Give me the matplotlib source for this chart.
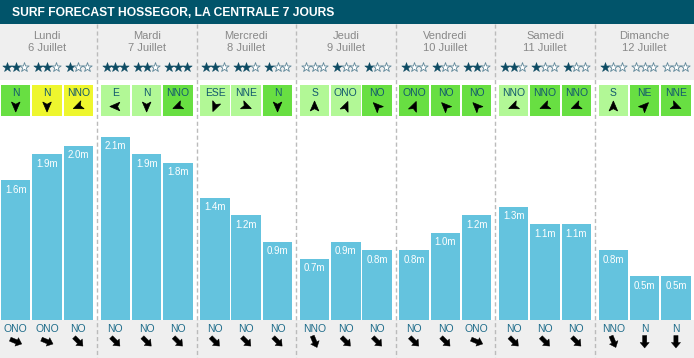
import numpy as np
import matplotlib
matplotlib.use("Agg")
import matplotlib.pyplot as plt
from matplotlib.patches import Rectangle, Polygon

plt.rcParams['font.family'] = ['Liberation Sans', 'DejaVu Sans']

days = ["Lundi", "Mardi", "Mercredi", "Jeudi", "Vendredi", "Samedi", "Dimanche"]
dates = ["6 Juillet", "7 Juillet", "8 Juillet", "9 Juillet", "10 Juillet", "11 Juillet", "12 Juillet"]
wave_height = [1.6, 1.9, 2.0, 2.1, 1.9, 1.8, 1.4, 1.2, 0.9, 0.7, 0.9, 0.8,
               0.8, 1.0, 1.2, 1.3, 1.1, 1.1, 0.8, 0.5, 0.5]
stars = [2, 2, 1, 3, 2, 3, 2, 2, 1, 0, 1, 1, 1, 1, 2, 2, 1, 1, 1, 0, 0]
wind_dir = ["N", "N", "NNO", "E", "N", "NNO", "ESE", "NNE", "N", "S", "ONO", "NO",
            "ONO", "NO", "NO", "NNO", "NNO", "NNO", "S", "NE", "NNE"]
wind_quality = [1, 2, 2, 0, 0, 1, 0, 0, 1, 0, 0, 1, 1, 1, 1, 0, 1, 1, 0, 1, 1]
swell_dir = ["ONO", "ONO", "NO", "NO", "NO", "NO", "NO", "NO", "NO", "NNO", "NO", "NO",
             "NO", "NO", "ONO", "NO", "NO", "NO", "NNO", "N", "N"]

compass = ["N", "NNE", "NE", "ENE", "E", "ESE", "SE", "SSE",
           "S", "SSO", "SO", "OSO", "O", "ONO", "NO", "NNO"]
bearing = {name: i * 22.5 for i, name in enumerate(compass)}

# ---- layout (pixels) ----
W, H = 694, 358
day_w = 99.6
x_first = 1
step = 31.3
bw = 29.5
bar_top_px, bar_bot_px = 120, 320
px_per_m = 87.2

TEAL = "#01546a"
GRAY_BG = "#efefef"
BAR = "#64c3de"
wind_colors = {0: "#b2f896", 1: "#68df42", 2: "#eef62e"}


def slot_left(i):
    return x_first + (i // 3) * day_w + (i % 3) * step


def rotated(points, cx, cy, angle_deg):
    # points in local coords (tip along +x), angle counter-clockwise on screen
    a = np.deg2rad(angle_deg)
    pts = np.asarray(points, dtype=float)
    xs = pts[:, 0] * np.cos(a) - pts[:, 1] * np.sin(a)
    ys = pts[:, 0] * np.sin(a) + pts[:, 1] * np.cos(a)
    return np.column_stack((cx + xs, cy - ys))  # y axis is inverted


dart = [(5.5, 0), (-4.5, 4.3), (-2.2, 0), (-4.5, -4.3)]
fat_arrow = [(6.5, 0), (1, 4.6), (1, 2.1), (-6, 2.1), (-6, -2.1), (1, -2.1), (1, -4.6)]

fig = plt.figure(figsize=(W / 100, H / 100), dpi=100)
bg = fig.add_axes([0, 0, 1, 1])
bg.set_xlim(0, W)
bg.set_ylim(H, 0)
bg.axis('off')

bg.add_patch(Rectangle((0, 0), W, 24, color=TEAL, lw=0))
bg.add_patch(Rectangle((0, 24), W, 56, color=GRAY_BG, lw=0))
bg.add_patch(Rectangle((0, bar_bot_px), W, H - bar_bot_px, color=GRAY_BG, lw=0))
bg.text(12, 12.5, "SURF FORECAST HOSSEGOR, LA CENTRALE 7 JOURS", color="white",
        fontsize=8.7, fontweight="bold", va="center", ha="left")

for d in range(len(days)):
    cx = x_first + d * day_w + (2 * step + bw) / 2
    bg.text(cx, 36, days[d], color="#888888", fontsize=8, ha="center", va="center")
    bg.text(cx, 48, dates[d], color="#888888", fontsize=8, ha="center", va="center")
    if d > 0:
        xd = x_first + d * day_w - 3.5
        bg.plot([xd, xd], [24, H], color="#bbbbbb", lw=1, dashes=(3, 2), zorder=1)

n = len(wave_height)
centers = np.array([slot_left(i) + bw / 2 for i in range(n)])

# stars
star_x, star_fill = [], []
for i in range(n):
    for k in range(3):
        star_x.append(centers[i] + (k - 1) * 8.6)
        star_fill.append(k < stars[i])
star_x = np.array(star_x)
star_fill = np.array(star_fill)
bg.scatter(star_x[star_fill], np.full(star_fill.sum(), 67), marker='*', s=50,
           facecolor="#0d4b63", edgecolor="#0d4b63", lw=0.4, zorder=3)
bg.scatter(star_x[~star_fill], np.full((~star_fill).sum(), 67), marker='*', s=50,
           facecolor="white", edgecolor="#5f8799", lw=0.6, zorder=3)

# wind boxes
for i in range(n):
    left = slot_left(i)
    bg.add_patch(Rectangle((left, 85), bw, 31, color=wind_colors[wind_quality[i]], lw=0))
    bg.text(centers[i], 93, wind_dir[i], color="#12596d", fontsize=7.5, ha="center", va="center")
    ang = -90 + 3 * bearing[wind_dir[i]]
    bg.add_patch(Polygon(rotated(dart, centers[i], 106.5, ang), closed=True,
                         facecolor="black", edgecolor="black", lw=0.5))

# swell direction row
for i in range(n):
    bg.text(centers[i], 328.5, swell_dir[i], color="#1f6c8a", fontsize=7.5, ha="center", va="center")
    ang = -90 - bearing[swell_dir[i]]
    bg.add_patch(Polygon(rotated(fat_arrow, centers[i], 341.5, ang), closed=True,
                         facecolor="black", edgecolor="black", lw=0.3))

# wave height bars
bar_ax = fig.add_axes([0, (H - bar_bot_px) / H, 1, (bar_bot_px - bar_top_px) / H])
bar_ax.set_xlim(0, W)
bar_ax.set_ylim(0, (bar_bot_px - bar_top_px) / px_per_m)
bar_ax.axis('off')
bar_ax.patch.set_visible(False)
bar_ax.bar(centers, wave_height, width=bw, color=BAR, lw=0)
for cx, v in zip(centers, wave_height):
    bar_ax.annotate(f"{v:.1f}m", (cx, v), xytext=(0, -6.8), textcoords="offset points",
                    ha="center", va="center", color="white", fontsize=7)

fig.savefig("out.png", dpi=100)
